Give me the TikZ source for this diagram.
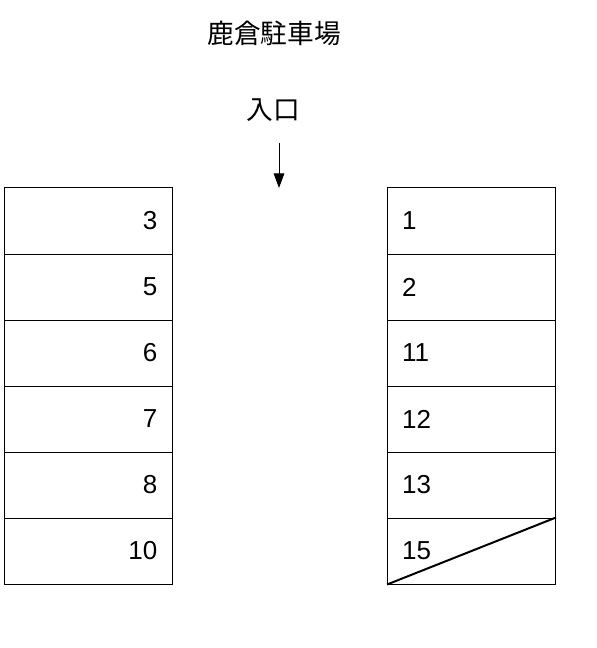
\documentclass[tikz,border=0pt]{standalone}
\usepackage{fontspec}
\setmainfont{Liberation Sans}
\newfontfamily\cjk{Noto Sans CJK JP}
\usepackage{tikz}
\usetikzlibrary{arrows.meta}
\tikzset{every picture/.style={line width=0.75pt}}
\tikzset{
  slot/.style={draw, minimum width=126pt, minimum height=49.5pt, inner xsep=11pt, text width=104pt, font=\fontsize{19.5}{22}\selectfont},
  lbl/.style={inner sep=0.75pt, font=\cjk\fontsize{20}{24}\selectfont}
}

\begin{document}
\begin{tikzpicture}[x=0.75pt,y=0.75pt,yscale=-1,xscale=1]
\useasboundingbox (0,0) rectangle (596,648);
% title and entrance
\node[lbl] (title) at (274,33) {鹿倉駐車場};
\node[lbl] (entry) at (273,110) {入口};
\coordinate (arrtop) at (279,143);
\coordinate (arrend) at (279,188);
\draw [-{Triangle[width=8pt,length=11pt]}] (arrtop) -- (arrend);
% left row of slots
\foreach \n [count=\i] in {3,5,6,7,8,10}
  \node[slot, align=right] (L\i) at (88,{221+66*(\i-1)}) {\n};
% right row of slots
\foreach \n [count=\i] in {1,2,11,12,13,15}
  \node[slot, align=left] (R\i) at (471.5,{221+66*(\i-1)}) {\n};
% slot 15 crossed out
\draw [line width=1.5pt] (R6.south west) -- (R6.north east);
\end{tikzpicture}
\end{document}
